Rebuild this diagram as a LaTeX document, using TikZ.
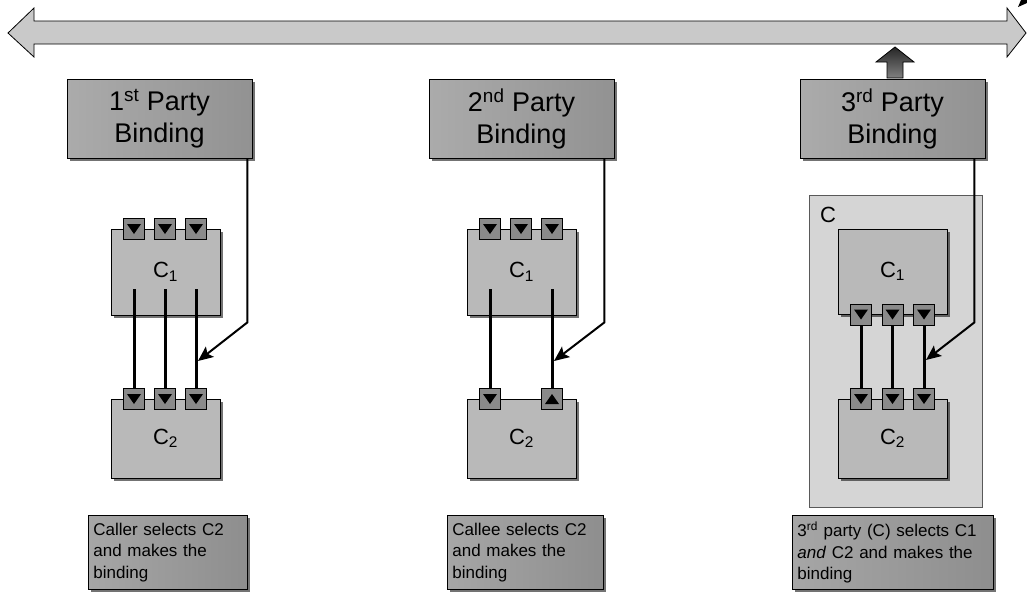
\documentclass[tikz,border=0pt]{standalone}
\usepackage{fontspec}
\setmainfont{Liberation Sans}
\usetikzlibrary{shadows,arrows.meta}

\definecolor{pbL}{HTML}{ABABAB}
\definecolor{pbR}{HTML}{929292}
\definecolor{compgray}{HTML}{B9B9B9}
\definecolor{portgray}{HTML}{8A8A8A}
\definecolor{outergray}{HTML}{D5D5D5}
\definecolor{arrowgray}{HTML}{C9C9C9}
\definecolor{capL}{HTML}{A6A6A6}
\definecolor{capR}{HTML}{8E8E8E}

\begin{document}
\begin{tikzpicture}[x=1pt,y=-1pt,
  shad/.style={drop shadow={shadow xshift=3pt,shadow yshift=-3pt,fill=black,opacity=0.55}},
  partybox/.style={draw=black,line width=0.8pt,minimum width=185pt,minimum height=79pt,
    inner sep=0pt,align=center,font=\fontsize{27}{32}\selectfont,
    left color=pbL,right color=pbR,shad},
  compbox/.style={draw=black,line width=0.8pt,fill=compgray,minimum width=109pt,
    inner sep=0pt,font=\fontsize{22}{24}\selectfont,shad},
  outerbox/.style={draw=black!65,line width=0.8pt,fill=outergray,minimum width=173pt,
    minimum height=312pt,inner sep=0pt},
  port/.style={draw=black,line width=0.7pt,fill=portgray,minimum size=21pt,inner sep=0pt,
    path picture={\fill[black] ([shift={(-7,-5)}]path picture bounding box.center)
      -- ++(14,0) -- ++(-7,10) -- cycle;}},
  portup/.style={draw=black,line width=0.7pt,fill=portgray,minimum size=21pt,inner sep=0pt,
    path picture={\fill[black] ([shift={(-7,5)}]path picture bounding box.center)
      -- ++(14,0) -- ++(-7,-10) -- cycle;}},
  wire/.style={line width=3pt,black},
  bind/.style={line width=2pt,black,-{Stealth[length=15pt,width=13pt,inset=3pt]}},
  caption/.style={draw=black,line width=0.8pt,left color=capL,right color=capR,
    minimum height=74pt,inner xsep=5pt,inner ysep=3pt,align=left,anchor=north west,
    font=\fontsize{17}{21.5}\selectfont,shad}
]
\fill[white] (0,0) rectangle (1027,592);
\useasboundingbox (0,0) rectangle (1027,592);

% timeline double arrow
\draw[line width=0.8pt,fill=arrowgray] (8,33) -- (34,8) -- (34,21) -- (1007,21) -- (1007,8)
  -- (1026,33) -- (1007,57) -- (1007,44) -- (34,44) -- (34,57) -- cycle;
\fill (1018,7) -- (1021,0) -- (1027,0) -- (1027,3) -- cycle;

% binding boxes
\node[partybox] (pb1) at (159.5,118.5) {1\textsuperscript{st} Party\\Binding};
\node[partybox] (pb2) at (521.5,118.5) {2\textsuperscript{nd} Party\\Binding};
\node[partybox] (pb3) at (892.5,118.5) {3\textsuperscript{rd} Party\\Binding};

% dark arrow above the third binding
\draw[line width=0.8pt,top color=black!85,bottom color=black!50]
  (887,78) -- (887,62) -- (876,62) -- (895,47) -- (914,62) -- (903,62) -- (903,78) -- cycle;

% ---- first party ----
\node[compbox,minimum height=86pt] (c1a) at (165.5,272) {C\textsubscript{1}};
\node[compbox,minimum height=79pt] (c2a) at (165.5,438.5) {C\textsubscript{2}};
\node[port] (pa1) at (134,229) {};
\node[port] (pa2) at (165,229) {};
\node[port] (pa3) at (196,229) {};
\node[port] (qa1) at (134,399) {};
\node[port] (qa2) at (165,399) {};
\node[port] (qa3) at (196,399) {};
\coordinate (sa1) at (134,289);
\coordinate (sa2) at (165,289);
\coordinate (sa3) at (196,289);
\draw[wire] (sa1) -- (qa1.north);
\draw[wire] (sa2) -- (qa2.north);
\draw[wire] (sa3) -- (qa3.north);
\coordinate (ta) at (198,361);
\draw[bind] ([xshift=-5pt]pb1.south east) -- ++(0,164) -- (ta);

% ---- second party ----
\node[compbox,minimum height=86pt] (c1b) at (521.5,272) {C\textsubscript{1}};
\node[compbox,minimum height=79pt] (c2b) at (521.5,438.5) {C\textsubscript{2}};
\node[port] (pb1p) at (490,229) {};
\node[port] (pb2p) at (521,229) {};
\node[port] (pb3p) at (552,229) {};
\node[port] (qb1) at (490,399) {};
\node[portup] (qb3) at (552,399) {};
\coordinate (sb1) at (490,289);
\coordinate (sb3) at (552,289);
\draw[wire] (sb1) -- (qb1.north);
\draw[wire] (sb3) -- (qb3.north);
\coordinate (tb) at (554,361);
\draw[bind] ([xshift=-10pt]pb2.south east) -- ++(0,164) -- (tb);

% ---- third party ----
\node[outerbox] (cc) at (895.5,351) {};
\node[font=\fontsize{22}{24}\selectfont,anchor=center] (cclab) at (828,215) {C};
\node[compbox,minimum height=85pt] (c1c) at (892.5,271.5) {C\textsubscript{1}};
\node[compbox,minimum height=79pt] (c2c) at (892.5,438.5) {C\textsubscript{2}};
\node[port] (pc1) at (861,314.5) {};
\node[port] (pc2) at (892.5,314.5) {};
\node[port] (pc3) at (924,314.5) {};
\node[port] (qc1) at (861,399) {};
\node[port] (qc2) at (892.5,399) {};
\node[port] (qc3) at (924,399) {};
\draw[wire] (pc1.south) -- (qc1.north);
\draw[wire] (pc2.south) -- (qc2.north);
\draw[wire] (pc3.south) -- (qc3.north);
\coordinate (tc) at (926,360);
\draw[bind] ([xshift=-11pt]pb3.south east) -- ++(0,164) -- (tc);

% captions
\node[caption,text width=149pt] (cap1) at (88,515) {Caller selects C2\\and makes the\\binding};
\node[caption,text width=146pt] (cap2) at (447,515) {Callee selects C2\\and makes the\\binding};
\node[caption,text width=191pt] (cap3) at (792,515)
  {3\textsuperscript{rd} party (C) selects C1\\\textit{and} C2 and makes the\\binding};
\end{tikzpicture}
\end{document}
